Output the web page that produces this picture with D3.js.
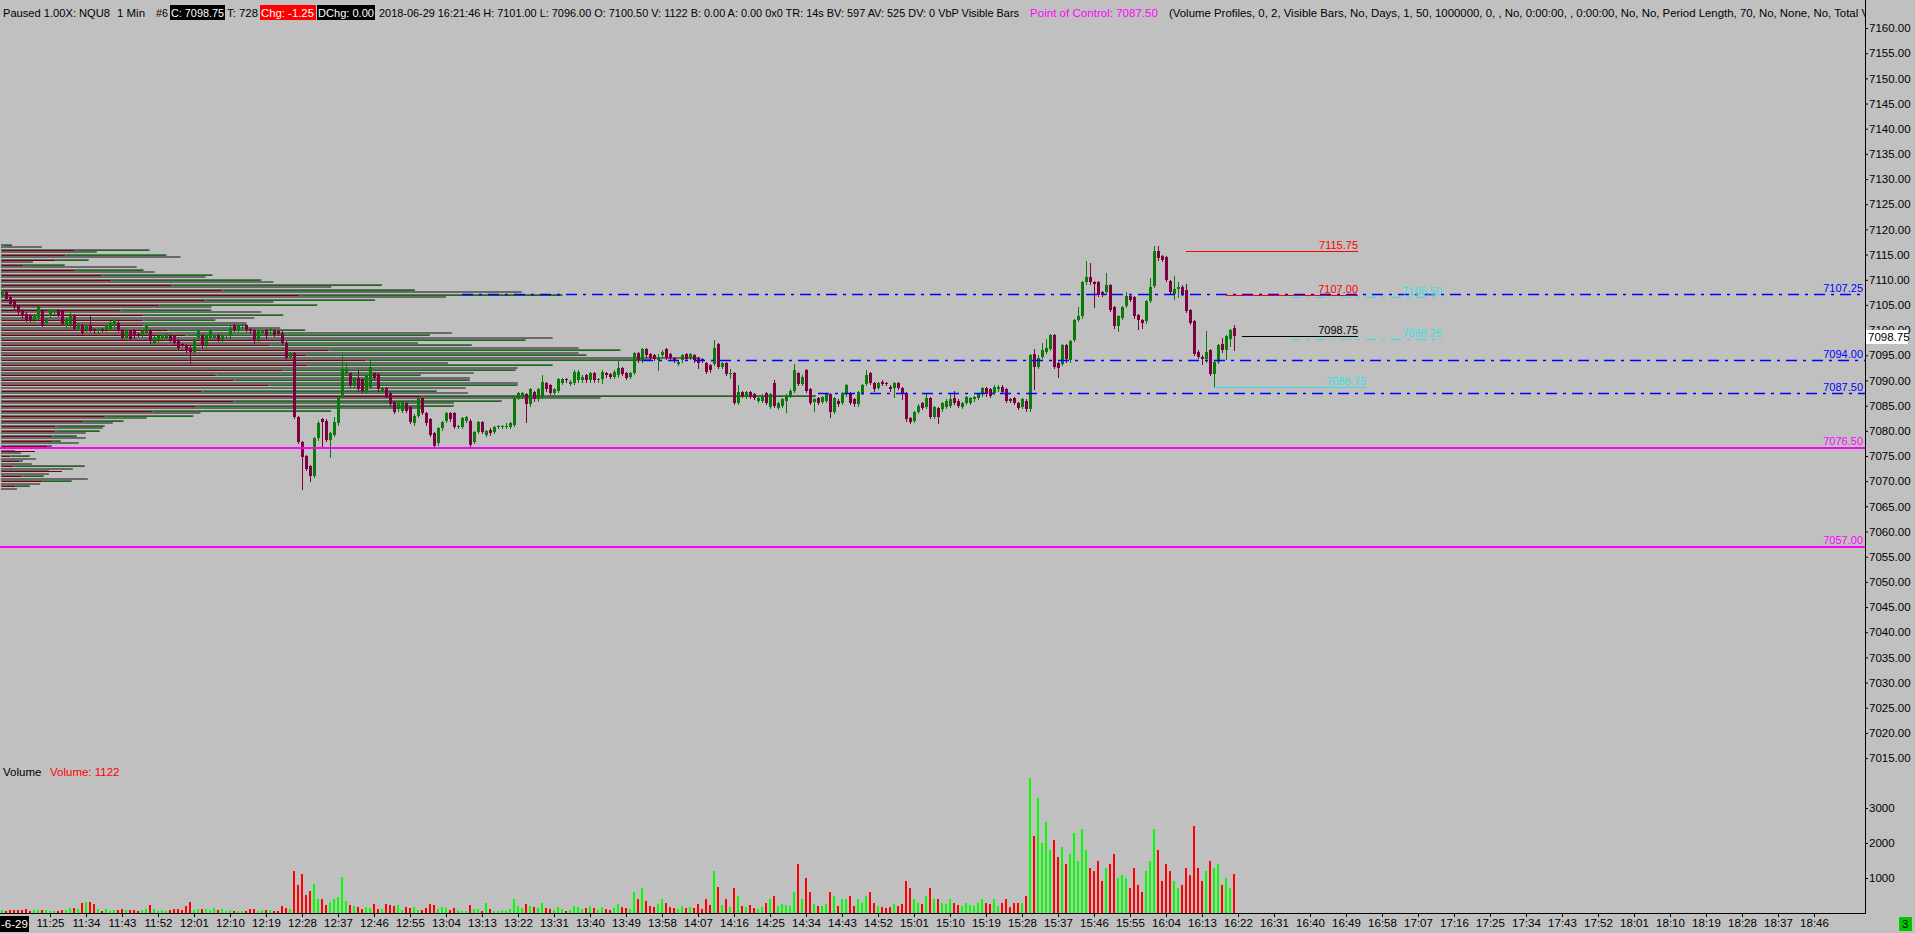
<!DOCTYPE html>
<html><head><meta charset="utf-8">
<script src="https://cdn.jsdelivr.net/npm/d3@7/dist/d3.min.js"></script>
<style>
html,body{margin:0;padding:0;background:#c0c0c0;overflow:hidden}
svg{display:block;font-family:"Liberation Sans",Arial,sans-serif}
</style></head><body>
<svg id="c" width="1915" height="933"></svg>
<script>
// ---------- DATA ----------
const firstBarTime = "11:13";
const opens = [
7106.75,7107.5,7106.5,7106,7104.75,7104,7103.25,7103,7102,7102.5,
7104,7101.5,7102.75,7103.5,7104,7103.75,7100.75,7101,7103,7100.25,
7101,7100,7101,7100.25,7099.75,7100.25,7100,7100.25,7100.75,7101.5,
7100,7098.5,7099.75,7100,7099.25,7099,7099.5,7100,7097.5,7098,
7098.5,7098.25,7099,7098.75,7098,7097.25,7097,7096.5,7095.75,7098.5,
7099,7097,7098.5,7098.5,7099,7098,7098.75,7098.75,7101,7100,
7100.75,7101,7100.25,7100,7098,7099.5,7100,7099.75,7100,7099.75,
7099.5,7097.5,7094.75,7095.5,7082.75,7077.75,7075,7073,7071,7078.5,
7082.25,7082,7078.25,7079.25,7081.5,7086.75,7091.5,7091.5,7089,7090.5,
7090.25,7087.75,7088.75,7091.5,7091.25,7088,7088.5,7087.5,7085.75,7084.25,
7084,7085.5,7084.75,7081.5,7083,7086.5,7083.5,7082.25,7079.5,7077.5,
7080.5,7082,7083.5,7083.5,7080.75,7080.75,7082,7082,7077.75,7079.75,
7081.75,7079.25,7080.25,7079.75,7080.75,7080.75,7081,7080.75,7081.25,7086.5,
7086.75,7087.25,7085.25,7087.75,7086.25,7086.75,7089.5,7089,7087.5,7088,
7089.5,7090.25,7089.25,7089.5,7090,7090,7091,7090,7091.5,7090,
7090.25,7091.5,7091.25,7090.75,7091,7092.5,7091.5,7090.75,7091.5,7095.5,
7094,7096.25,7095.25,7095,7094,7095,7096.25,7095.25,7094.5,7093.25,
7094,7095.25,7094.5,7095,7094.5,7094.25,7093.5,7093,7093.25,7097.25,
7092.75,7093.5,7091.25,7091.5,7085.5,7087.75,7086.75,7087.75,7087.25,7086,
7086,7087.5,7084.75,7089.5,7084.5,7085,7086,7087,7088,7091.5,
7089.25,7092,7088.25,7085.75,7086.5,7085.75,7086,7087.25,7083.75,7086,
7085.5,7087.25,7087.5,7086.25,7085.25,7087.5,7089.25,7091.5,7089.5,7088.5,
7089.75,7089.5,7088.75,7088.5,7089.5,7088.5,7087.5,7082.5,7082,7083.75,
7085.5,7084.75,7086.5,7082.75,7084.5,7084.25,7084.75,7085,7086.5,7086,
7084.75,7085.5,7085.5,7086.25,7086.5,7087.25,7088.5,7088.25,7087.5,7088.25,
7088.75,7088.25,7086.25,7086.5,7085.5,7084.75,7086,7084.25,7095.25,7092.75,
7094.75,7095.75,7096.25,7099,7093.5,7093.25,7097,7094,7098,7102,
7102.75,7109.5,7110.5,7109.5,7109.5,7107.5,7107.5,7109,7104.5,7100.75,
7102.5,7104.75,7106.75,7106.5,7103,7102,7101.75,7105.75,7108.75,7115.75,
7114.75,7114.5,7109.75,7107.25,7108.25,7108.5,7108,7104,7101.75,7095.75,
7094.75,7094.25,7096,7091.25,7093.75,7097.25,7096,7098.25,7100.5
];
const highs = [
7108,7107.75,7106.75,7106.25,7105,7104.25,7103.5,7103.25,7103.25,7105,
7104.25,7102.5,7104.25,7104.25,7104.25,7104,7102.5,7103.5,7103.25,7101.5,
7101.25,7101.25,7102.75,7100.5,7100.5,7100.5,7101.25,7101.75,7102.25,7101.75,
7100.25,7100.25,7100,7100.25,7099.5,7100,7101,7100.25,7098.75,7099,
7099.25,7099.5,7099.25,7099,7098.25,7097.5,7097.25,7096.75,7098.5,7100,
7099.25,7099,7100.25,7099.25,7099.25,7099.25,7099.25,7100.75,7101.25,7101,
7101.25,7101.25,7100.5,7100.25,7100,7100,7100.25,7100.5,7100.25,7100,
7099.75,7097.75,7095.75,7095.75,7083,7078,7075.25,7073.25,7078.75,7082,
7082.5,7082.25,7079.75,7082.75,7087,7095.25,7093.75,7091.75,7090.75,7092,
7090.5,7091.25,7094,7091.75,7091.5,7088.75,7088.75,7087.75,7086,7085.75,
7086,7085.75,7085,7083.25,7086.75,7086.75,7083.75,7082.5,7079.75,7080.75,
7082,7083.75,7083.75,7083.75,7081.25,7082.75,7083,7082.25,7080,7082,
7082,7080.25,7080.5,7081,7081.25,7081.25,7081.5,7081.75,7086.75,7087.75,
7087.75,7087.5,7088.5,7088,7088.5,7091,7089.75,7089.25,7088.5,7090.5,
7090.5,7090.5,7090,7092,7092,7091,7091.25,7091.75,7091.75,7090.5,
7092,7091.75,7091.5,7092,7094,7092.75,7091.75,7091.75,7095.75,7095.75,
7096.5,7096.5,7095.5,7095.25,7095.25,7096,7096.5,7095.5,7094.75,7094,
7095.25,7095.5,7095.5,7095.25,7094.75,7094.5,7093.75,7093.25,7098,7097.5,
7093.75,7093.75,7092.25,7091.75,7089,7088,7088,7088,7087.5,7086.75,
7087.25,7087.75,7087.5,7090,7085.75,7086.5,7087.25,7088.25,7093.25,7091.75,
7091,7092.25,7088.5,7086.5,7086.75,7087,7087.5,7087.5,7086.75,7086.25,
7087.75,7089.25,7087.75,7086.5,7088,7089.25,7092,7091.75,7089.75,7089.75,
7090,7089.75,7089,7089.75,7089.75,7088.75,7087.75,7082.75,7084,7085.25,
7085.75,7087.5,7086.75,7085,7084.75,7085.75,7086.25,7087.5,7088,7086.25,
7085.75,7087,7086.75,7087,7087.5,7088.75,7088.75,7088.5,7089,7089,
7089,7088.5,7086.5,7086.75,7085.75,7086.5,7086.25,7095.25,7096.25,7095,
7097.5,7098.25,7099.25,7099.25,7093.75,7097.25,7097.25,7098,7102.25,7104.5,
7109.75,7113.75,7113.25,7109.75,7109.75,7107.75,7111.25,7109.25,7104.75,7103,
7104.75,7107.5,7107.25,7106.75,7103.25,7102.25,7106,7110.25,7116.75,7116.75,
7115,7114.75,7110,7110.75,7109.5,7109,7109.25,7104.25,7102,7096,
7095,7099.75,7096.25,7094,7097.25,7098.5,7099,7100.25,7101
];
const lows = [
7106.5,7106,7105,7104.25,7103.25,7102.5,7101.75,7101.75,7101.75,7102.25,
7100.75,7101.25,7102.5,7103.25,7102.75,7101,7100.5,7100.75,7100,7100,
7099.25,7099.75,7099.75,7099.5,7099.5,7099.75,7099.75,7100,7100.5,7099.75,
7098.25,7098.25,7098,7098.5,7098.75,7098.75,7099.25,7097.5,7097.25,7097.75,
7098.25,7098,7097.75,7097.25,7096.25,7096.75,7095.75,7093.5,7095.5,7098.25,
7096.5,7096.75,7098.25,7098.25,7097.75,7097.75,7098.5,7098.5,7099.75,7099.75,
7100.5,7099.75,7099.5,7097.5,7097.75,7099.25,7098.5,7099.5,7098.75,7099,
7097.25,7094.25,7094.5,7082.5,7077.5,7068.5,7072.25,7070,7070.75,7078.25,
7077,7078,7074.75,7079,7081.25,7086.5,7091.25,7088.75,7088.75,7088,
7087.75,7087.5,7088.5,7090.25,7088,7087.75,7086.75,7085,7083.5,7084,
7083.75,7083.75,7081.5,7081.25,7082.75,7083.25,7081.25,7079,7076.75,7077.25,
7080.25,7081.75,7082,7080.5,7080.5,7080.5,7081.75,7077,7077.5,7079.5,
7079.5,7079,7079.25,7079.5,7080.5,7080.5,7080.5,7080.5,7081,7086.25,
7086.5,7081.75,7085,7086,7086,7086.5,7088,7087.25,7087.25,7087.75,
7089.25,7089.75,7089,7089.25,7089.75,7089.75,7089.75,7089.75,7089.75,7089.75,
7089.5,7090.75,7090.5,7090.5,7090.75,7091,7090.25,7090.5,7091.25,7093.75,
7093.75,7094.75,7094.25,7094,7092,7094.75,7094.25,7094.25,7093.75,7093,
7093.75,7094,7094.25,7093.75,7092.5,7093.75,7091.5,7091.75,7093,7092.5,
7092.5,7091,7090.5,7085.25,7085.25,7086.75,7086.5,7086.5,7086.25,7085.75,
7085.75,7085.25,7084.5,7084.75,7084.25,7084.75,7083.75,7086.75,7087.75,7089,
7089,7087.75,7085.25,7084,7085.25,7085.5,7085.75,7082.75,7083.5,7085,
7085.25,7087,7085.25,7085,7085,7087.25,7089,7089.25,7088,7088.25,
7089,7089,7088,7086.75,7088.25,7086.25,7082,7081.5,7081.75,7083.5,
7084.25,7084.5,7082.5,7082.5,7081.5,7084,7084.5,7084.75,7085.25,7084.75,
7084.5,7085.25,7085.25,7086,7086.25,7087,7087,7086.75,7087.25,7088,
7087.5,7085.75,7085.75,7085.25,7084.25,7084.5,7084,7084,7088.25,7092.5,
7094.5,7095.5,7096,7092.5,7090.75,7093,7093.75,7093.75,7097.75,7101.75,
7102.5,7109.25,7109.25,7104.5,7106.75,7106.75,7107.25,7103.75,7100.5,7099.75,
7102.25,7104.5,7105.75,7102.5,7100.25,7100.5,7101.5,7105.5,7108.5,7114,
7113.75,7109.75,7107.25,7106.25,7106.5,7107,7103.5,7101.25,7095,7094.5,
7093.25,7093.75,7091,7088.75,7093.5,7095.75,7094.25,7096.75,7096
];
const closes = [
7107.75,7106.25,7105.25,7104.5,7103.5,7102.75,7102,7102,7103,7104.75,
7101,7102.25,7104,7104,7103,7101.25,7102.25,7103.25,7100.25,7101.25,
7099.5,7101,7100,7099.75,7100.25,7100,7101,7101.5,7102,7100,
7098.5,7100,7098.25,7098.75,7099,7099.75,7100.75,7097.75,7098.5,7098.75,
7099,7099.25,7098,7097.5,7096.5,7097,7096,7095.75,7098.25,7099.75,
7096.75,7098.75,7100,7099,7098,7099,7099,7100.5,7100,7100.75,
7101,7100,7099.75,7097.75,7099.75,7099.75,7098.75,7100.25,7099,7099.25,
7097.5,7094.5,7095.5,7082.75,7077.75,7074.75,7072.5,7071,7078.5,7081.5,
7081.75,7078.25,7079.5,7081.75,7086.75,7092.25,7092.25,7089,7090.5,7088.25,
7088,7091,7092.75,7090.5,7088.25,7088.5,7087,7085.25,7083.75,7085.5,
7085.75,7084,7081.75,7083,7086.5,7083.5,7081.5,7079.25,7077,7080.5,
7081.75,7083.5,7082.25,7080.75,7081,7082.5,7082.75,7077.25,7079.75,7081.75,
7079.75,7080,7079.5,7080.75,7081,7081,7081,7081.5,7086.5,7087.5,
7087.5,7085.25,7088.25,7086.25,7088.25,7089.75,7088.25,7087.5,7088.25,7090.25,
7090.25,7090,7089.75,7091.75,7091.75,7090.75,7090,7091.5,7090,7090.25,
7091.75,7091,7090.75,7091.75,7092.5,7091.25,7090.5,7091.5,7095.5,7094,
7096.25,7095,7094.5,7094.25,7094.5,7095.75,7094.5,7094.5,7094,7093.75,
7095,7094.25,7095.25,7094,7093.5,7094,7091.75,7092,7096.5,7092.75,
7093.5,7091.25,7091.5,7085.5,7087.75,7087,7087.75,7086.75,7086.5,7086.5,
7087,7085.5,7087.25,7085,7085.5,7086.25,7087,7088,7092,7089.25,
7090.75,7088,7085.5,7086.25,7085.5,7086.75,7087.25,7083.75,7086.5,7085.25,
7087.5,7089,7085.5,7085.25,7087.75,7089,7091,7089.5,7088.25,7089.5,
7089.25,7089.25,7088.25,7089.5,7088.5,7087.5,7082.25,7081.75,7083.75,7085,
7084.5,7086.5,7082.75,7084.75,7082.75,7085.5,7086,7086.25,7085.5,7085,
7085.5,7086.75,7086.5,7086.75,7087.25,7088.5,7087.25,7087,7088.75,7088.75,
7087.75,7086,7086,7085.5,7084.5,7086.25,7084.25,7095,7092.75,7094.5,
7096,7096.5,7099,7092.75,7092.5,7097,7094.25,7097.75,7102,7102.75,
7109.5,7110.5,7109.5,7109.25,7107,7107,7109,7104,7100.75,7102.75,
7104.5,7106.75,7106,7102.75,7102,7101.5,7105.75,7108.5,7115.75,7114.25,
7114,7110,7107.5,7108.25,7108.5,7107.25,7103.75,7101.5,7095.25,7094.75,
7094.25,7095.75,7091.25,7093.75,7097,7096,7098.75,7100,7098.75
];
const volumes = [
86,57,86,86,86,86,114,57,86,86,
86,100,57,57,57,86,86,143,143,114,
286,314,314,257,114,57,114,57,86,86,
114,86,86,86,57,86,114,228,114,57,
86,57,86,114,114,86,200,314,86,114,
114,114,86,143,86,114,57,86,57,57,
57,57,114,114,57,86,86,86,57,57,
200,143,114,1200,800,1114,514,628,828,400,
400,228,314,400,457,1028,343,228,200,171,
114,171,143,257,114,114,257,228,200,228,
86,171,143,171,86,86,143,257,228,114,
171,143,86,143,86,57,57,228,114,114,
57,286,114,57,57,86,57,114,400,200,
143,257,200,171,143,286,143,114,86,171,
114,57,86,200,171,114,143,200,143,86,
171,114,86,143,257,171,143,114,600,400,
700,350,200,171,257,400,300,171,143,114,
200,143,171,143,257,114,400,228,1200,750,
228,400,171,700,500,200,171,228,143,114,
171,286,400,500,200,257,228,200,600,1400,
400,1000,600,257,200,200,257,600,500,200,
400,400,500,200,400,300,500,600,300,200,
171,143,171,257,200,257,900,700,400,300,
257,500,700,400,400,286,257,400,300,228,
200,286,228,200,286,400,300,257,400,200,
300,400,171,286,300,286,500,3850,2200,3300,
2000,2600,1800,2100,1600,1900,1400,1700,2300,1500,
2400,1800,1300,1200,1500,900,1300,1400,1700,1000,
1100,1000,700,1300,800,600,1200,1500,2400,1800,
900,1400,1200,900,700,800,1300,1100,2500,1300,
900,1200,1500,1300,1400,800,1000,700,1122
];
// Volume profile (0.5 pt rows, top to bottom), total and sell volume
const profileTop = 7117.0, profileStep = 0.5;
const profileTotal = [
100,400,1480,950,1650,1790,870,310,630,1350,
1420,1530,2110,2040,2600,2720,3810,3300,4140,5210,
5620,4450,3740,2720,3160,2100,2100,2600,2820,2530,
2140,2450,2450,2790,3040,4510,4290,5520,5250,4170,
4710,5780,6200,5780,5860,7000,6500,4470,5520,5170,
5150,4730,4200,4690,4690,5170,5170,4650,4360,4670,
8160,6000,5010,4530,4530,4200,3300,1990,1920,1450,
1220,1110,1030,1010,980,840,750,840,590,770,
500,590,130,190,280,340,210,300,830,710,
470,470,420,860,700,380,280,150
];
const profileSell = [
0,null,730,null,630,null,530,null,210,null,
730,null,1000,null,1090,null,1700,null,2200,null,
2980,null,2030,null,1570,null,1180,null,1410,null,
1410,null,1410,null,1660,null,1840,null,2830,null,
2680,null,3270,null,3050,null,3640,null,3060,null,
2810,null,2140,null,2320,null,2670,null,2000,null,
4200,null,2320,null,1940,null,1500,null,1030,null,
810,null,530,null,530,null,500,null,500,null,
450,null,330,null,80,null,170,null,110,null,
600,null,200,null,400,null,130,null
];
const timeLabels = ["11:25","11:34","11:43","11:52","12:01","12:10","12:19","12:28","12:37","12:46",
"12:55","13:04","13:13","13:22","13:31","13:40","13:49","13:58","14:07","14:16",
"14:25","14:34","14:43","14:52","15:01","15:10","15:19","15:28","15:37","15:46",
"15:55","16:04","16:13","16:22","16:31","16:40","16:49","16:58","17:07","17:16",
"17:25","17:34","17:43","17:52","18:01","18:10","18:19","18:28","18:37","18:46"];
const priceTicks = d3.range(7015, 7160.01, 5);
const volumeTicks = [1000, 2000, 3000];
const levelLines = [ // blue dash-dot
  {price:7107.25, fromBar:115}, {price:7094.00, fromBar:160}, {price:7087.50, fromBar:204}];
const magentaLines = [7076.50, 7057.00];
const lastPrice = 7098.75, lastVolume = 1122;

// ---------- SETUP ----------
const W = 1915, H = 933, AX = 1865, BOT = 913;
const svg = d3.select("#c");
const toMin = s => { const [h,m] = s.split(":").map(Number); return h*60+m; };
const t0 = toMin(firstBarTime);
const x = d3.scaleLinear().domain([-0.5, 465.5]).range([0, 1864]);
const y = d3.scaleLinear().domain([7015, 7160]).range([758.1, 28]);
const yv = d3.scaleLinear().domain([0, 3000]).range([BOT, 808]);
const px = v => Math.round(v);

svg.append("rect").attr("width", W).attr("height", H).attr("fill", "#c0c0c0");

svg.append("clipPath").attr("id","plot").append("rect").attr("x",0).attr("y",0).attr("width",AX).attr("height",BOT);
const plot = svg.append("g").attr("clip-path","url(#plot)");

// ---------- VOLUME PROFILE ----------
const prof = profileTotal.map((v,k)=>({p: profileTop - k*profileStep, tot:v, sell: profileSell[k]}));
const xp = d3.scaleLinear().domain([0, 8160]).range([2, 816]);
const gP = plot.append("g");
gP.selectAll("rect.pt").data(prof).join("rect")
  .attr("x", 1).attr("y", d => px(y(d.p)) - 1)
  .attr("width", d => Math.max(1, xp(d.tot) - 1)).attr("height", 2)
  .attr("fill", "#6a6a6a");
const pl = prof.filter(d => d.sell !== null);
gP.selectAll("rect.ps").data(pl).join("rect")
  .attr("x", 2).attr("y", d => px(y(d.p)))
  .attr("width", d => Math.max(0, xp(d.sell) - 2)).attr("height", 1)
  .attr("fill", "#7a0000");
gP.selectAll("rect.pb").data(pl).join("rect")
  .attr("x", d => xp(d.sell) + 2).attr("y", d => px(y(d.p)))
  .attr("width", d => Math.max(0, xp(d.tot) - xp(d.sell) - 3)).attr("height", 1)
  .attr("fill", "#0a780a");

// ---------- CANDLES ----------
const bars = opens.map((o,i)=>({i, o, h:highs[i], l:lows[i], c:closes[i], v:volumes[i]}));
const up = "#0a7a0a", dn = "#7d003f";
const gC = plot.append("g");
gC.selectAll("rect.w").data(bars).join("rect")
  .attr("x", d => px(x(d.i))).attr("width", 1)
  .attr("y", d => px(y(d.h))).attr("height", d => px(y(d.l)) - px(y(d.h)) + 1)
  .attr("fill", d => d.c >= d.o ? up : dn);
gC.selectAll("rect.b").data(bars).join("rect")
  .attr("x", d => px(x(d.i)) - 1).attr("width", 3)
  .attr("y", d => px(y(Math.max(d.o,d.c))))
  .attr("height", d => Math.max(1, px(y(Math.min(d.o,d.c))) - px(y(Math.max(d.o,d.c)))))
  .attr("fill", d => d.c >= d.o ? up : dn);

// ---------- LEVEL LINES ----------
const gL = plot.append("g");
levelLines.forEach(L => {
  const yy = px(y(L.price)) + 0.5;
  gL.append("line").attr("x1", px(x(L.fromBar))).attr("x2", AX).attr("y1", yy).attr("y2", yy)
    .attr("stroke", "#0000ff").attr("stroke-width", 1.6).attr("stroke-dasharray", "11,6,3,6");
  gL.append("text").attr("x", AX - 2).attr("y", yy - 3).attr("text-anchor","end")
    .attr("font-size", 11).attr("fill", "#0000ff").text(L.price.toFixed(2));
});
magentaLines.forEach(p => {
  const yy = px(y(p));
  gL.append("rect").attr("x", 0).attr("width", AX).attr("y", yy-1).attr("height", 2).attr("fill", "#ff00ff");
  gL.append("text").attr("x", AX - 2).attr("y", yy - 3).attr("text-anchor","end")
    .attr("font-size", 11).attr("fill", "#ff00ff").text(p.toFixed(2));
});
const shortLines = [
  {p:7115.75, x1:1186, x2:1358, col:"#ff0000", dash:null, lx:1358},
  {p:7107.00, x1:1226, x2:1358, col:"#ff0000", dash:null, lx:1358},
  {p:7098.75, x1:1242, x2:1358, col:"#000000", dash:null, lx:1358},
  {p:7106.50, x1:1291, x2:1442, col:"#33e0e0", dash:"10,6,3,6", lx:1442},
  {p:7098.25, x1:1291, x2:1442, col:"#33e0e0", dash:"10,6,3,6", lx:1442},
  {p:7088.75, x1:1214, x2:1366, col:"#33e0e0", dash:null, lx:1366}
];
shortLines.forEach(s => {
  const yy = px(y(s.p)) + 0.5;
  const ln = gL.append("line").attr("x1", s.x1).attr("x2", s.x2).attr("y1", yy).attr("y2", yy)
    .attr("stroke", s.col).attr("stroke-width", 1);
  if (s.dash) ln.attr("stroke-dasharray", s.dash);
  gL.append("text").attr("x", s.lx).attr("y", yy - 3).attr("text-anchor","end")
    .attr("font-size", 11).attr("fill", s.col).text(s.p.toFixed(2));
});

// ---------- VOLUME ----------
const gV = plot.append("g");
gV.selectAll("rect").data(bars).join("rect")
  .attr("x", d => px(x(d.i)) - 1).attr("width", 2)
  .attr("y", d => px(yv(d.v))).attr("height", d => BOT - px(yv(d.v)))
  .attr("fill", d => d.c >= d.o ? "#00ff00" : "#ff0000");
svg.append("text").attr("x", 3).attr("y", 776).attr("font-size", 11.5).attr("fill", "#000").text("Volume");
svg.append("text").attr("x", 50).attr("y", 776).attr("font-size", 11.5).attr("fill", "#ff0000").text("Volume: " + lastVolume);

// ---------- AXES ----------
svg.append("line").attr("x1", AX+0.5).attr("x2", AX+0.5).attr("y1", 0).attr("y2", BOT+1).attr("stroke", "#000");
svg.append("line").attr("x1", 0).attr("x2", AX+1).attr("y1", BOT+0.5).attr("y2", BOT+0.5).attr("stroke", "#000");

const ay = svg.append("g").attr("transform", `translate(${AX+1},0)`)
  .call(d3.axisRight(y).tickValues(priceTicks).tickFormat(d3.format(".2f")).tickSize(2).tickPadding(1));
const av = svg.append("g").attr("transform", `translate(${AX+1},0)`)
  .call(d3.axisRight(yv).tickValues(volumeTicks).tickFormat(d3.format("d")).tickSize(2).tickPadding(1));
[ay, av].forEach(g => {
  g.select(".domain").remove();
  g.selectAll("text").attr("font-size", 11.5).attr("fill", "#000").attr("font-family", "Liberation Sans, Arial");
  g.selectAll("line").attr("stroke", "#000");
});
const lpY = y(lastPrice);
svg.append("rect").attr("x", AX+1).attr("y", px(lpY) - 6).attr("width", 42).attr("height", 14).attr("fill", "#fff");
svg.append("text").attr("x", AX+3).attr("y", px(lpY) + 5).attr("font-size", 11.5).attr("fill", "#000").text(lastPrice.toFixed(2));

const tIdx = timeLabels.map(s => toMin(s) - t0);
const ax = svg.append("g").attr("transform", `translate(0,${BOT})`)
  .call(d3.axisBottom(x).tickValues(tIdx).tickFormat((d,k) => timeLabels[k]).tickSize(4).tickPadding(2));
ax.select(".domain").remove();
ax.selectAll("text").attr("font-size", 11.5).attr("fill", "#000").attr("font-family", "Liberation Sans, Arial");
ax.selectAll("line").attr("stroke", "#000");

svg.append("rect").attr("x", 0).attr("y", 916).attr("width", 29).attr("height", 16).attr("fill", "#000");
svg.append("text").attr("x", 1).attr("y", 928).attr("font-size", 11.5).attr("fill", "#fff").text("-6-29");
svg.append("rect").attr("x", 1899).attr("y", 917).attr("width", 13).attr("height", 14).attr("fill", "#00c800");
svg.append("text").attr("x", 1902).attr("y", 928).attr("font-size", 11.5).attr("fill", "#000").text("3");

// ---------- HEADER ----------
const hdr = [
  {t:"Paused 1.00X: NQU8", x:3, w:107, col:"#000"},
  {t:"1 Min", x:117, w:28, col:"#000"},
  {t:"#6", x:156, w:12, col:"#000"},
  {t:"C: 7098.75", x:171, w:53, col:"#fff", bg:"#000", bx:170, bw:55},
  {t:"T: 728", x:227, w:31, col:"#000"},
  {t:"Chg: -1.25", x:261, w:53, col:"#fff", bg:"#ff0000", bx:260, bw:56},
  {t:"DChg: 0.00", x:318, w:56, col:"#fff", bg:"#000", bx:317, bw:58},
  {t:"2018-06-29 16:21:46 H: 7101.00 L: 7096.00 O: 7100.50 V: 1122 B: 0.00 A: 0.00 0x0 TR: 14s BV: 597 AV: 525 DV: 0 VbP Visible Bars", x:379, w:640, col:"#000"},
  {t:"Point of Control: 7087.50", x:1030, w:128, col:"#ff00ff"},
  {t:"(Volume Profiles, 0, 2, Visible Bars, No, Days, 1, 50, 1000000, 0, , No, 0:00:00, , 0:00:00, No, No, Period Length, 70, No, None, No, Total V", x:1169, w:700, col:"#000"}
];
svg.append("clipPath").attr("id","hclip").append("rect").attr("x",0).attr("y",0).attr("width",AX).attr("height",24);
const gH = svg.append("g").attr("clip-path","url(#hclip)");
hdr.forEach(h => {
  if (h.bg) gH.append("rect").attr("x", h.bx).attr("y", 5).attr("width", h.bw).attr("height", 15).attr("fill", h.bg);
  gH.append("text").attr("x", h.x).attr("y", 17).attr("font-size", 11).attr("fill", h.col)
    .attr("textLength", h.w).attr("lengthAdjust", "spacingAndGlyphs").text(h.t);
});
</script>
</body></html>
